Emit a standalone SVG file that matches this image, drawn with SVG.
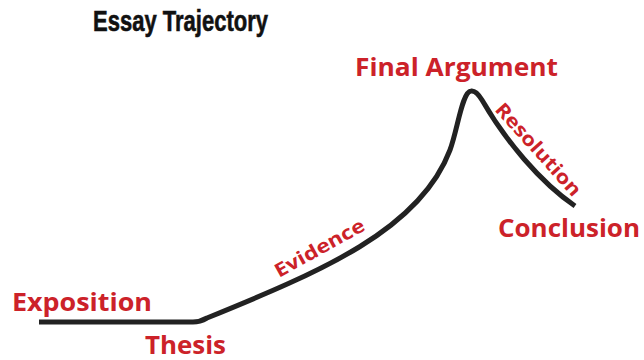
<svg xmlns="http://www.w3.org/2000/svg" width="644" height="360" viewBox="0 0 644 360">
<style>
.title{font-family:"Liberation Sans Narrow","Liberation Sans",Arial,sans-serif;font-weight:bold;font-size:29px;fill:#111;stroke:#111;stroke-width:0.6}
.lbl{font-family:"Open Sans","Liberation Sans",Arial,sans-serif;font-weight:bold;font-size:25px;fill:#cc2229}
.sm{font-size:19px}
.curve{fill:none;stroke:#222;stroke-width:5;stroke-linecap:butt;stroke-linejoin:round}
</style>
<rect width="644" height="360" fill="#fff"/>
<text class="title" x="93" y="31" textLength="175" lengthAdjust="spacingAndGlyphs">Essay Trajectory</text>
<g id="connectors">
<path class="curve" d="M39,322 L193,322 Q200,322 207,318 C320,272 420,230 450,150 C458,128 462,92 471,91 Q476,90 482,100 C505,140 540,182 575,206"/>
</g>
<g id="exposition"><text class="lbl" x="12" y="311" textLength="140" lengthAdjust="spacingAndGlyphs">Exposition</text></g>
<g id="thesis"><text class="lbl" x="145" y="354" textLength="81" lengthAdjust="spacingAndGlyphs">Thesis</text></g>
<g id="evidence"><text class="lbl sm" transform="translate(279,278) rotate(-29)" textLength="100" lengthAdjust="spacingAndGlyphs">Evidence</text></g>
<g id="final"><text class="lbl" x="355" y="76" textLength="203" lengthAdjust="spacingAndGlyphs">Final Argument</text></g>
<g id="resolution"><text class="lbl sm" transform="translate(494,110) rotate(48)" textLength="118" lengthAdjust="spacingAndGlyphs">Resolution</text></g>
<g id="conclusion"><text class="lbl" x="498" y="237" textLength="142" lengthAdjust="spacingAndGlyphs">Conclusion</text></g>
</svg>
